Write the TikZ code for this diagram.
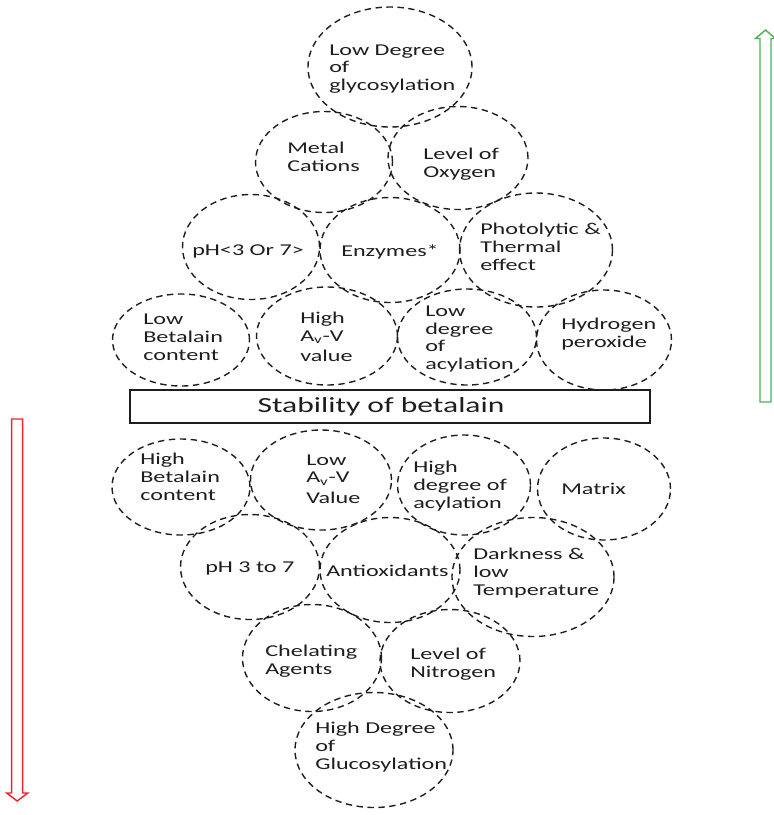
\documentclass[tikz,border=0pt]{standalone}
\usepackage{fontspec}
\setmainfont{Carlito}[FakeStretch=1.46]
\usetikzlibrary{shapes.geometric}
\definecolor{upgreen}{RGB}{76,178,84}
\definecolor{downred}{RGB}{232,40,42}
\definecolor{inkgray}{RGB}{30,30,30}
\begin{document}
\begin{tikzpicture}[x=0.75pt,y=-0.75pt,
  bubble/.style={ellipse, draw=inkgray, line width=1.05pt, dash pattern=on 4.8pt off 3.4pt, inner sep=0pt},
  lbl/.style={anchor=west, align=left, inner sep=0pt, text=inkgray, font=\fontsize{12.4}{13.4}\selectfont},
  titlebox/.style={draw=inkgray, line width=1.2pt, inner sep=0pt},
  titletext/.style={inner sep=0pt, text=inkgray, font=\fontsize{16.2}{19}\selectfont},
  bigarrow/.style={line width=1.1pt, line join=miter}
]
\useasboundingbox (0,0) rectangle (774,815);

% factors lowering stability (above the bar)
\node[bubble, minimum width=123pt,    minimum height=90pt]    (e1)  at (390,67)  {};
\node[bubble, minimum width=102.75pt, minimum height=75.75pt] (e2)  at (324,162) {};
\node[bubble, minimum width=105pt,    minimum height=77.25pt] (e3)  at (458,158) {};
\node[bubble, minimum width=102.75pt, minimum height=78.75pt] (e4)  at (251,247) {};
\node[bubble, minimum width=105pt,    minimum height=78.75pt] (e5)  at (390,250) {};
\node[bubble, minimum width=114.75pt, minimum height=85.5pt]  (e6)  at (536,250) {};
\node[bubble, minimum width=102.75pt, minimum height=69pt]    (e7)  at (181,340) {};
\node[bubble, minimum width=105.75pt, minimum height=73.5pt]  (e8)  at (327,336) {};
\node[bubble, minimum width=104.25pt, minimum height=72pt]    (e9)  at (467,337) {};
\node[bubble, minimum width=101.25pt, minimum height=75pt]    (e10) at (604,340) {};

\node[lbl] (t1)  at (329,69)  {Low Degree\\of\\glycosylation};
\node[lbl] (t2)  at (287,157) {Metal\\Cations};
\node[lbl] (t3)  at (423,164) {Level of\\Oxygen};
\node[lbl] (t4)  at (192,251) {pH<3 Or 7>};
\node[lbl] (t5)  at (341,252) {Enzymes*};
\node[lbl] (t6)  at (480,247) {Photolytic \&\\Thermal\\effect};
\node[lbl] (t7)  at (143,337) {Low\\Betalain\\content};
\node[lbl] (t8)  at (300,337) {High\\A\textsubscript{v}-V\\[2pt]value};
\node[lbl] (t9)  at (425,339) {Low\\degree\\of\\acylation};
\node[lbl] (t10) at (561,334) {Hydrogen\\peroxide};

% central bar
\node[titlebox, minimum width=390pt, minimum height=24.75pt] (bar) at (390,406.5) {};
\node[titletext] (bartext) at (381,406.5) {Stability of betalain};

% factors raising stability (below the bar)
\node[bubble, minimum width=103.5pt,  minimum height=72pt]    (e11) at (181,487) {};
\node[bubble, minimum width=105.75pt, minimum height=75pt]    (e12) at (321,480) {};
\node[bubble, minimum width=99.75pt,  minimum height=75pt]    (e13) at (464,485) {};
\node[bubble, minimum width=99.75pt,  minimum height=76.5pt]  (e14) at (604,489) {};
\node[bubble, minimum width=104.25pt, minimum height=78.75pt] (e15) at (250,567) {};
\node[bubble, minimum width=105pt,    minimum height=78.75pt] (e16) at (390,570) {};
\node[bubble, minimum width=121.5pt,  minimum height=89.25pt] (e17) at (533,577) {};
\node[bubble, minimum width=104.25pt, minimum height=80.25pt] (e18) at (312,658) {};
\node[bubble, minimum width=105pt,    minimum height=77.25pt] (e19) at (450,661) {};
\node[bubble, minimum width=118.5pt,  minimum height=86.25pt] (e20) at (374,750) {};

\node[lbl] (t11) at (140,477) {High\\Betalain\\content};
\node[lbl] (t12) at (306,479) {Low\\A\textsubscript{v}-V\\[2pt]Value};
\node[lbl] (t13) at (413,486) {High\\degree of\\acylation};
\node[lbl] (t14) at (561,489) {Matrix};
\node[lbl] (t15) at (205,568) {pH 3 to 7};
\node[lbl] (t16) at (326,571) {Antioxidants};
\node[lbl] (t17) at (473,573) {Darkness \&\\low\\Temperature};
\node[lbl] (t18) at (265,661) {Chelating\\Agents};
\node[lbl] (t19) at (410,664) {Level of\\Nitrogen};
\node[lbl] (t20) at (315,747) {High Degree\\of\\Glucosylation};

% outline arrows at the sides
\draw[bigarrow, upgreen] (760,402) -- (760,38.5) -- (755.5,38.5) -- (765.5,30)
  -- (775.5,38.5) -- (771,38.5) -- (771,402) -- cycle;
\draw[bigarrow, downred] (11.7,419) -- (22.7,419) -- (22.7,793) -- (27.7,793)
  -- (17.2,801) -- (6.7,793) -- (11.7,793) -- cycle;
\end{tikzpicture}
\end{document}
